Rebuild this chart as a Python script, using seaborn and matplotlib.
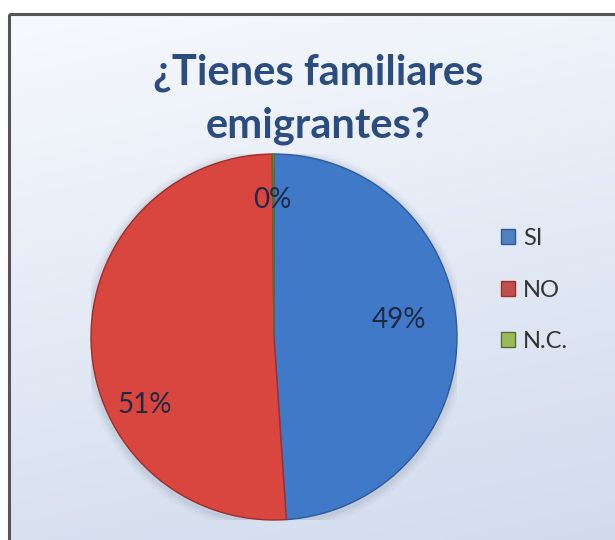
import numpy as np
import matplotlib
matplotlib.use("Agg")
import matplotlib.pyplot as plt
import seaborn as sns
from matplotlib.patches import Rectangle, Patch, Circle

sns.set_theme(style="white")
plt.rcParams['font.family'] = ['Lato', 'DejaVu Sans']

categories = ["SI", "NO", "N.C."]
values = [49.0, 51.0, 0.15]
pct_labels = ["49%", "51%", "0%"]
title_lines = ["¿Tienes familiares", "emigrantes?"]
colors = ["#4079C8", "#D8463F", "#9BBB59"]
edge_colors = ["#2C5A9A", "#9E2E2A", "#5A6B30"]
legend_colors = ["#4F81BD", "#C0504D", "#9BBB59"]

W, H = 615, 540
fig = plt.figure(figsize=(W / 100, H / 100), dpi=100)

# background gradient (light at top, bluish at bottom)
bg = fig.add_axes([0, 0, 1, 1])
bg.set_axis_off()
yy = np.linspace(0, 1, 200)[:, None]
xx = np.linspace(0, 1, 200)[None, :]
t = np.clip(0.8 * yy + 0.2 * xx, 0, 1)
top = np.array([0.97, 0.98, 0.995])
bot = np.array([0.82, 0.86, 0.93])
img = top[None, None, :] * (1 - t[..., None]) + bot[None, None, :] * t[..., None]
bg.imshow(img, extent=[0, W, H, 0], origin="upper", aspect="auto")
bg.set_xlim(0, W)
bg.set_ylim(H, 0)
bg.add_patch(Rectangle((0, 0), W, 13, color="white", zorder=2))
bg.add_patch(Rectangle((0, 0), 8, H, color="white", zorder=2))
bg.add_patch(Rectangle((9, 14), W + 20, H + 20, fill=False, edgecolor="#555555", lw=2.2, zorder=3))

# title
for line, yp in zip(title_lines, [73, 126]):
    fig.text(318 / W, 1 - yp / H, line, ha="center", va="center", fontsize=30,
             fontweight="bold", color="#2B4C7E")

# pie
cx, cy, r = 274, 337, 183
ax = fig.add_axes([(cx - r) / W, (H - cy - r) / H, 2 * r / W, 2 * r / H])
ax.set_axis_off()
for k, a in zip([1.05, 1.035, 1.02], [0.04, 0.06, 0.08]):
    ax.add_patch(Circle((0.0, -0.01), k, color="#5a6a85", alpha=a, zorder=0, lw=0))
wedges, texts, autotexts = ax.pie(values, colors=colors, startangle=90, counterclock=False,
                                  autopct="%1.0f%%", pctdistance=0.7,
                                  wedgeprops=dict(linewidth=1.0),
                                  textprops=dict(fontsize=20, color="#1E2A45"))
for w, ec in zip(wedges, edge_colors):
    w.set_edgecolor(ec)
    w.set_zorder(2)
label_pos = [(0.68, 0.093), (-0.705, -0.37), (-0.01, 0.75)]
for at, lab, p in zip(autotexts, pct_labels, label_pos):
    at.set_text(lab)
    at.set_position(p)
    at.set_zorder(5)
ax.set_xlim(-1, 1)
ax.set_ylim(-1, 1)
ax.set_aspect("equal")

handles = [Patch(facecolor=c, edgecolor=ec, label=l) for c, ec, l in zip(legend_colors, edge_colors, categories)]
fig.legend(handles=handles, loc="center left", bbox_to_anchor=(489 / W, 1 - 290 / H),
           frameon=False, fontsize=17, handlelength=0.6, handleheight=0.6,
           handletextpad=0.35, labelspacing=1.3, borderpad=0, labelcolor="#333333")

fig.savefig("out.png", dpi=100)
